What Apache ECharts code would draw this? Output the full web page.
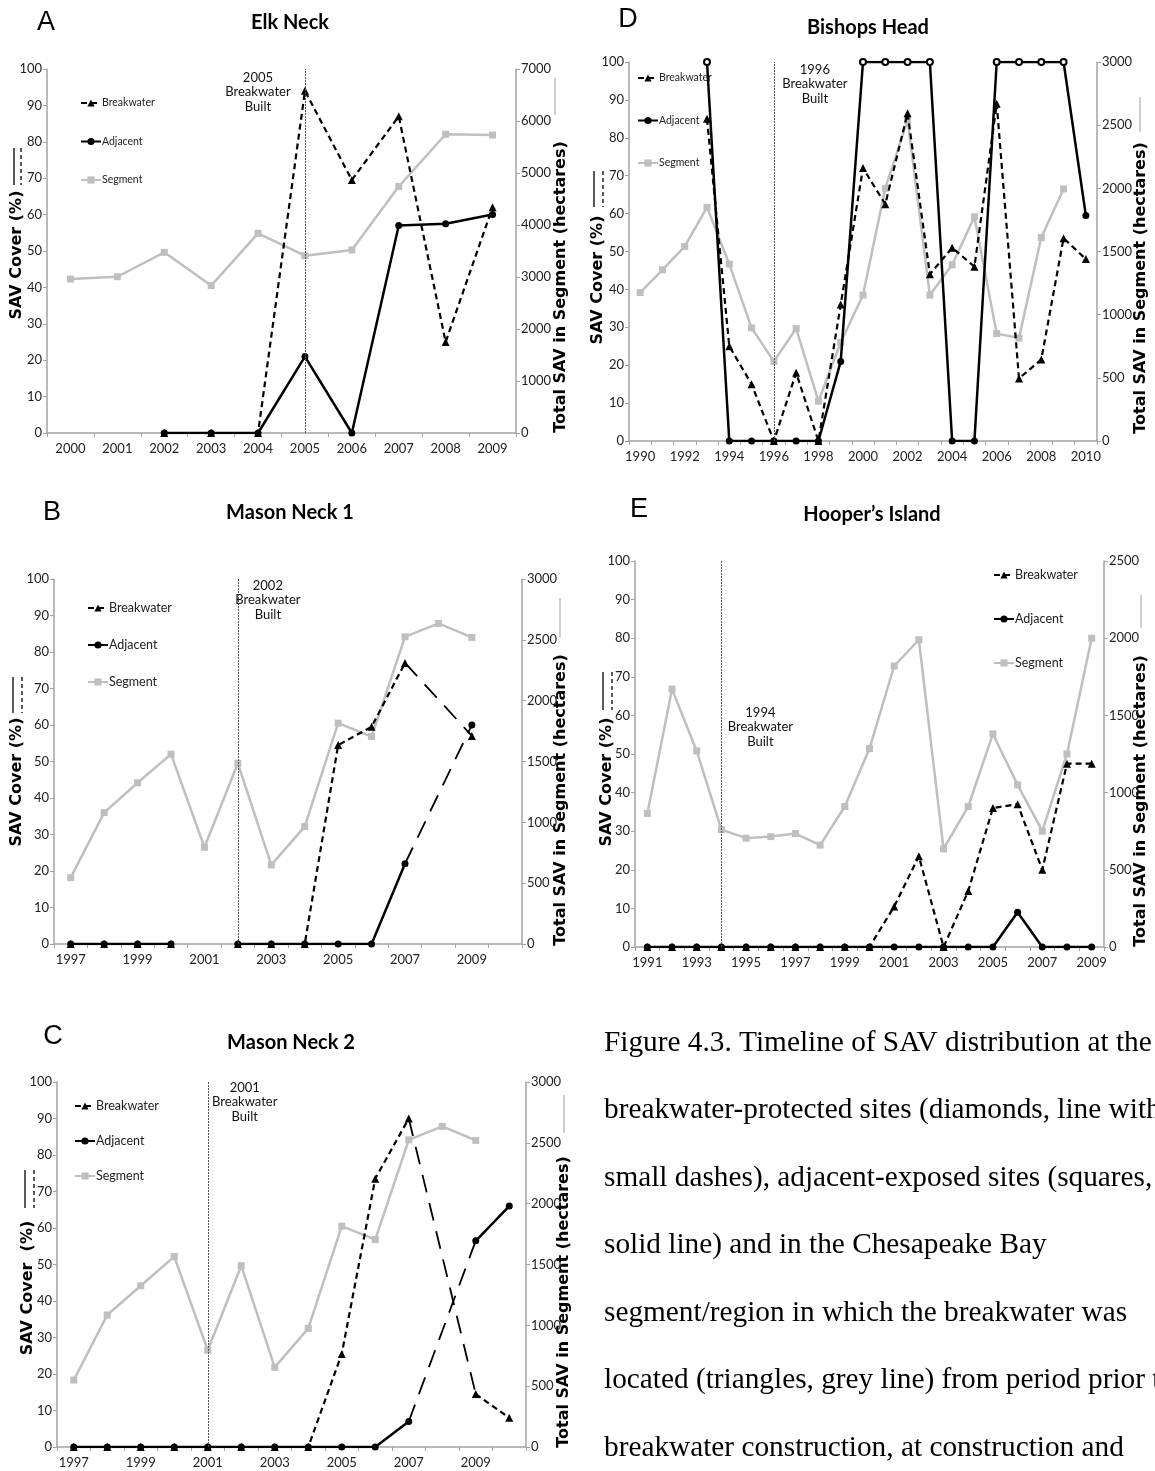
<!DOCTYPE html>
<html>
<head>
<meta charset="utf-8">
<script src="https://cdn.jsdelivr.net/npm/echarts@6/dist/echarts.min.js"></script>
<style>
  html, body { margin: 0; padding: 0; background: #fff; }
  #chart { width: 1155px; height: 1471px; }
</style>
</head>
<body>
<div id="chart"></div>
<script>
// ---------------- data ----------------
// SAV cover (%) at breakwater and adjacent sites; total SAV in the bay segment (hectares)

// A - Elk Neck
const ELK_YEARS = ['2000','2001','2002','2003','2004','2005','2006','2007','2008','2009'];
const ELK_BREAKWATER = [null, null, 0, 0, 0, 94, 69.5, 87, 25, 62];
const ELK_ADJACENT   = [null, null, 0, 0, 0, 21, 0, 57, 57.5, 60];
const ELK_SEGMENT    = [2960, 3005, 3475, 2835, 3840, 3410, 3520, 4740, 5745, 5730];
const ELK_BUILT = '2005';

// D - Bishops Head
const BISHOPS_YEARS = ['1990','1991','1992','1993','1994','1995','1996','1997','1998','1999','2000',
                       '2001','2002','2003','2004','2005','2006','2007','2008','2009','2010'];
const BISHOPS_BREAKWATER = [null, null, null, 85, 25, 15, 0, 18, 0, 36, 72, 62.5, 86.5, 44, 51, 46, 89, 16.5, 21.5, 53.5, 48];
const BISHOPS_ADJACENT   = [null, null, null, 100, 0, 0, 0, 0, 0, 21, 100, 100, 100, 100, 0, 0, 100, 100, 100, 100, 59.5];
const BISHOPS_SEGMENT    = [1175, 1355, 1540, 1850, 1400, 895, 630, 890, 315, 780, 1155, 2000, 2540, 1155, 1395, 1775, 850, 815, 1610, 1995, null];
const BISHOPS_BUILT = '1996';

// B - Mason Neck 1
const MASON1_YEARS = ['1997','1998','1999','2000','2001','2002','2003','2004','2005','2006','2007','2008','2009','2010'];
const MASON1_BREAKWATER = [0, 0, 0, 0, null, 0, 0, 0, 54.5, 59.5, 77, null, 57, null];
const MASON1_ADJACENT   = [0, 0, 0, 0, null, 0, 0, 0, 0, 0, 22, null, 60, null];
const MASON1_SEGMENT    = [545, 1080, 1325, 1560, 795, 1485, 650, 965, 1815, 1705, 2525, 2635, 2520, null];
const MASON1_BRIDGES = [['2007', '2009']];
const MASON1_BUILT = '2002';

// E - Hooper's Island
const HOOPERS_YEARS = ['1991','1992','1993','1994','1995','1996','1997','1998','1999','2000',
                       '2001','2002','2003','2004','2005','2006','2007','2008','2009'];
const HOOPERS_BREAKWATER = [0, 0, 0, 0, 0, 0, 0, 0, 0, 0, 10.5, 23.5, 0, 14.5, 36, 37, 20, 47.5, 47.5];
const HOOPERS_ADJACENT   = [0, 0, 0, 0, 0, 0, 0, 0, 0, 0, 0, 0, 0, 0, 0, 9, 0, 0, 0];
const HOOPERS_SEGMENT    = [865, 1670, 1270, 760, 705, 715, 735, 660, 910, 1285, 1820, 1990, 635, 910, 1380, 1050, 750, 1250, 2000];
const HOOPERS_BUILT = '1994';

// C - Mason Neck 2
const MASON2_YEARS = ['1997','1998','1999','2000','2001','2002','2003','2004','2005','2006','2007','2008','2009','2010'];
const MASON2_BREAKWATER = [0, 0, 0, 0, 0, 0, 0, 0, 25.5, 73.5, 90, null, 14.5, 8];
const MASON2_ADJACENT   = [0, 0, 0, 0, 0, 0, 0, 0, 0, 0, 7, null, 56.5, 66];
const MASON2_SEGMENT    = [550, 1085, 1325, 1565, 795, 1490, 655, 975, 1815, 1705, 2525, 2635, 2520, null];
const MASON2_BRIDGES = [['2007', '2009']];
const MASON2_BUILT = '2001';

const SERIES_NAMES = ['Breakwater', 'Adjacent', 'Segment'];
const CAPTION_LINES = [
  'Figure 4.3. Timeline of SAV distribution at the',
  'breakwater-protected sites (diamonds, line with',
  'small dashes), adjacent-exposed sites (squares,',
  'solid line) and in the Chesapeake Bay',
  'segment/region in which the breakwater was',
  'located (triangles, grey line) from period prior to',
  'breakwater construction, at construction and'
];

// ---------------- styling / layout ----------------
const SANS = "Lato,'Liberation Sans',sans-serif";
const BOLDF = "'DejaVu Sans',Verdana,sans-serif";
const SERIF = "'Liberation Serif','Times New Roman',serif";
const AXIS_GREY = '#a3a3a3';
const SEG_GREY = '#bfbfbf';

// legend: [left, first item centre y, item spacing, font size]
const PANELS = [
  { letter: 'A', title: 'Elk Neck', years: ELK_YEARS, breakwater: ELK_BREAKWATER, adjacent: ELK_ADJACENT,
    segment: ELK_SEGMENT, built: ELK_BUILT, bridges: [], rightMax: 7000, rightStep: 1000, labelEvery: 0,
    L: { grid: [47, 69, 469, 364], legend: [80, 103, 38.5, 10.5], letter: [46, 23], title: [290, 23],
         leftTitle: [17, 255, 'SAV Cover (%)'], keys: [14, 21, 148, 185], rightTitle: [561, 287], rightKey: [555, 78, 115],
         note: [-47, 92] } },
  { letter: 'D', title: 'Bishops Head', years: BISHOPS_YEARS, breakwater: BISHOPS_BREAKWATER, adjacent: BISHOPS_ADJACENT,
    segment: BISHOPS_SEGMENT, built: BISHOPS_BUILT, bridges: [], rightMax: 3000, rightStep: 500, labelEvery: 1, openAtFull: true,
    L: { grid: [629, 62, 468, 379], legend: [637, 78, 42.5, 10.5], letter: [628, 20], title: [868, 28],
         leftTitle: [598, 280, 'SAV Cover (%)'], keys: [594, 603, 171, 207], rightTitle: [1141, 288], rightKey: [1140, 97, 132],
         note: [41, 84] } },
  { letter: 'B', title: 'Mason Neck 1', years: MASON1_YEARS, breakwater: MASON1_BREAKWATER, adjacent: MASON1_ADJACENT,
    segment: MASON1_SEGMENT, built: MASON1_BUILT, bridges: MASON1_BRIDGES, rightMax: 3000, rightStep: 500, labelEvery: 1,
    L: { grid: [54, 579, 468, 365], legend: [87, 608, 37, 12.5], letter: [52, 513], title: [290, 513],
         leftTitle: [17, 782, 'SAV Cover (%)'], keys: [13, 22, 677, 713], rightTitle: [561, 800], rightKey: [560, 598, 637],
         note: [30, 600] } },
  { letter: 'E', title: 'Hooper\u2019s Island', years: HOOPERS_YEARS, breakwater: HOOPERS_BREAKWATER, adjacent: HOOPERS_ADJACENT,
    segment: HOOPERS_SEGMENT, built: HOOPERS_BUILT, bridges: [], rightMax: 2500, rightStep: 500, labelEvery: 1,
    L: { grid: [635, 561, 469, 386], legend: [993, 575, 44, 12.5], letter: [639, 510], title: [872, 515],
         leftTitle: [607, 782, 'SAV Cover (%)'], keys: [603, 612, 672, 710], rightTitle: [1141, 801], rightKey: [1141, 595, 628],
         note: [39, 727] } },
  { letter: 'C', title: 'Mason Neck 2', years: MASON2_YEARS, breakwater: MASON2_BREAKWATER, adjacent: MASON2_ADJACENT,
    segment: MASON2_SEGMENT, built: MASON2_BUILT, bridges: MASON2_BRIDGES, rightMax: 3000, rightStep: 500, labelEvery: 1,
    L: { grid: [57, 1082, 469, 365], legend: [74, 1106, 35, 12.5], letter: [53, 1037], title: [291, 1043],
         leftTitle: [28, 1288, 'SAV Cover  (%)'], keys: [25, 34, 1170, 1208], rightTitle: [564, 1302], rightKey: [564, 1095, 1133],
         note: [37, 1102] } }
];

// ---------------- option assembly ----------------
const grids = [], xAxes = [], yAxes = [], series = [], legends = [];

function axisCommon(margin) {
  return {
    axisLine: { show: true, lineStyle: { color: AXIS_GREY, width: 1.5 } },
    axisTick: { show: true, length: 4, lineStyle: { color: AXIS_GREY, width: 1 } },
    splitLine: { show: false },
    axisLabel: { fontFamily: SANS, fontSize: 13, color: '#222', margin: margin, formatter: v => String(v) }
  };
}

PANELS.forEach((p, i) => {
  const g = p.L.grid;
  grids.push({ left: g[0], top: g[1], width: g[2], height: g[3], containLabel: false });

  const xa = axisCommon(9);
  xa.axisTick.interval = 0;
  xa.axisLabel.interval = p.labelEvery;
  xAxes.push(Object.assign(xa, { type: 'category', gridIndex: i, data: p.years, boundaryGap: true }));

  yAxes.push(Object.assign(axisCommon(5), { type: 'value', gridIndex: i, position: 'left', min: 0, max: 100, interval: 10 }));
  yAxes.push(Object.assign(axisCommon(5), { type: 'value', gridIndex: i, position: 'right', min: 0, max: p.rightMax, interval: p.rightStep }));

  // segment total (right axis)
  series.push({
    name: 'Segment', type: 'line', xAxisIndex: i, yAxisIndex: 2 * i + 1, data: p.segment,
    symbol: 'rect', symbolSize: 7, connectNulls: false, z: 2,
    lineStyle: { color: SEG_GREY, width: 2.5 }, itemStyle: { color: SEG_GREY }
  });

  // adjacent-exposed site
  const adjData = p.adjacent.map(v => (p.openAtFull && v === 100)
    ? { value: v, symbol: 'emptyCircle', symbolSize: 6, itemStyle: { color: '#000', borderColor: '#000', borderWidth: 1.5 } }
    : v);
  series.push({
    name: 'Adjacent', type: 'line', xAxisIndex: i, yAxisIndex: 2 * i, data: adjData,
    symbol: 'circle', symbolSize: 7, connectNulls: false, z: 3,
    lineStyle: { color: '#000', width: 2.5 }, itemStyle: { color: '#000' }
  });

  // breakwater-protected site, with the construction year marked
  series.push({
    name: 'Breakwater', type: 'line', xAxisIndex: i, yAxisIndex: 2 * i, data: p.breakwater,
    symbol: 'triangle', symbolSize: 8, connectNulls: false, z: 4,
    lineStyle: { color: '#000', width: 2.2, type: [6, 4] }, itemStyle: { color: '#000' },
    markLine: {
      silent: true, symbol: ['none', 'none'], label: { show: false },
      lineStyle: { color: '#555', width: 1, type: [2, 1] },
      data: [{ xAxis: p.built }]
    }
  });

  // long-dash bridges across years without survey
  p.bridges.forEach(([a, b]) => {
    const ia = p.years.indexOf(a), ib = p.years.indexOf(b);
    [['Breakwater', p.breakwater], ['Adjacent', p.adjacent]].forEach(([nm, arr]) => {
      const d = p.years.map((_, k) => (k === ia || k === ib) ? arr[k] : null);
      series.push({
        name: nm + ' (no survey)', type: 'line', xAxisIndex: i, yAxisIndex: 2 * i, data: d,
        connectNulls: true, symbol: 'none', z: 3,
        lineStyle: { color: '#000', width: 1.8, type: [18, 11] }
      });
    });
  });

  const lg = p.L.legend;
  const itemH = Math.max(9, Math.round(lg[3] + 0.5));
  legends.push({
    left: lg[0], top: lg[1] - itemH / 2, orient: 'vertical', padding: 0,
    itemGap: lg[2] - itemH, itemWidth: 20, itemHeight: 9,
    selectedMode: false, data: SERIES_NAMES,
    textStyle: { fontFamily: SANS, fontSize: lg[3], color: '#222', padding: [0, 0, 0, -4] }
  });
});

const chart = echarts.init(document.getElementById('chart'), null, { renderer: 'canvas' });
chart.setOption({
  backgroundColor: '#fff',
  animation: false,
  grid: grids,
  xAxis: xAxes,
  yAxis: yAxes,
  legend: legends,
  series: series
});

// ---------------- text and key graphics ----------------
const graphics = [];
function txt(x, y, text, font, size, weight, extra) {
  graphics.push(Object.assign({
    type: 'text', x: x, y: y, silent: true,
    style: { text: text, fontFamily: font, fontSize: size, fontWeight: weight || 'normal', fill: '#000',
             align: 'center', verticalAlign: 'middle' }
  }, extra || {}));
}
function vline(x, y1, y2, color, dash, width) {
  graphics.push({ type: 'line', silent: true, shape: { x1: x, y1: y1, x2: x, y2: y2 },
    style: { stroke: color, lineWidth: width || 1.3, lineDash: dash || null } });
}

PANELS.forEach((p, i) => {
  const L = p.L;
  txt(L.letter[0], L.letter[1], p.letter, "'Liberation Sans',sans-serif", 27);
  txt(L.title[0], L.title[1], p.title, SANS, 20, 'bold');
  txt(L.leftTitle[0], L.leftTitle[1], L.leftTitle[2], BOLDF, 16, 'bold', { rotation: Math.PI / 2 });
  txt(L.rightTitle[0], L.rightTitle[1], 'Total SAV in Segment (hectares)', BOLDF, 16, 'bold', { rotation: Math.PI / 2 });
  vline(L.keys[0], L.keys[2], L.keys[3], '#000', null, 1.3);
  vline(L.keys[1], L.keys[2], L.keys[3], '#000', [4, 3], 1.3);
  vline(L.rightKey[0], L.rightKey[1], L.rightKey[2], SEG_GREY, null, 1.5);

  const bx = chart.convertToPixel({ xAxisIndex: i }, p.built);
  graphics.push({
    type: 'text', x: bx + L.note[0], y: L.note[1], silent: true,
    style: { text: p.built + '\nBreakwater\nBuilt', fontFamily: SANS, fontSize: 13, fill: '#111',
             align: 'center', verticalAlign: 'middle', lineHeight: 14.5 }
  });
});

CAPTION_LINES.forEach((line, k) => {
  graphics.push({
    type: 'text', x: 604, y: 1043 + k * 67.5, silent: true,
    style: { text: line, fontFamily: SERIF, fontSize: 29.3, fill: '#000', align: 'left', verticalAlign: 'middle' }
  });
});

chart.setOption({ graphic: graphics });
</script>
</body>
</html>
